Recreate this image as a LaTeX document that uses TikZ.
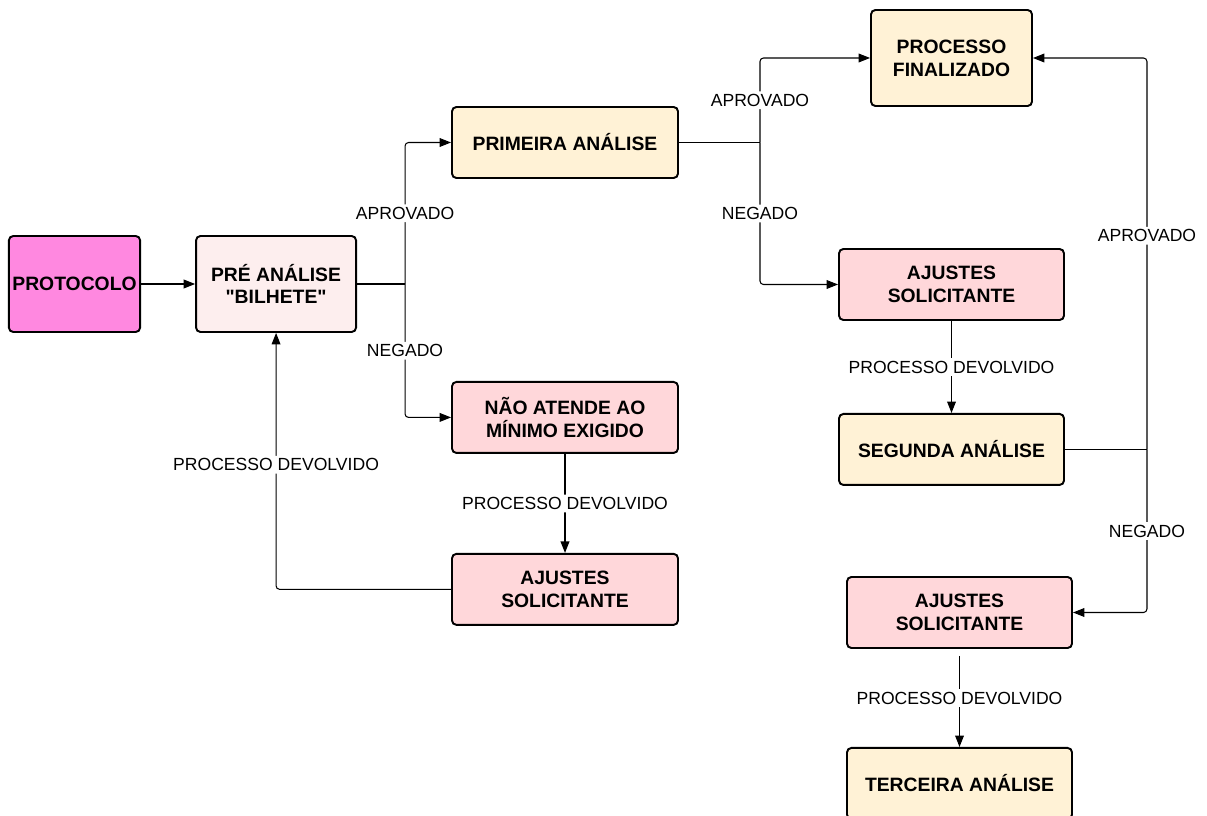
\documentclass[tikz,border=0pt]{standalone}
\usepackage{fontspec}
\setmainfont{Liberation Sans}[Ligatures=TeXOff]
\usetikzlibrary{positioning,calc}
\usetikzlibrary{arrows.meta}

\definecolor{protocolofill}{RGB}{255,136,224}
\definecolor{prefill}{RGB}{253,238,238}
\definecolor{analisefill}{RGB}{255,242,214}
\definecolor{ajustefill}{RGB}{255,215,218}

\begin{document}
\begin{tikzpicture}[
         box/.style = {draw=black, line width=1.1pt, rounded corners=2.5pt,
         align=center, inner sep=2pt, font=\fontsize{11}{13}\selectfont\bfseries},
         startbox/.style = {box, fill=protocolofill, minimum width=2.58cm, minimum height=1.92cm},
         prebox/.style = {box, fill=prefill, minimum width=3.2cm, minimum height=1.92cm},
         analise/.style = {box, fill=analisefill, minimum width=4.52cm, minimum height=1.42cm},
         ajuste/.style = {box, fill=ajustefill, minimum width=4.52cm, minimum height=1.42cm},
         link/.style = {line width=0.6pt, rounded corners=2pt, -{Triangle[length=6.5pt,width=5pt]}},
         plain/.style = {line width=0.6pt, rounded corners=2pt},
         lbl/.style = {fill=white, inner sep=1.5pt, font=\fontsize{10}{12}\selectfont}
]
      \useasboundingbox (0,0) rectangle (24.14,-16.32);

      % left part
      \node[startbox] (protocolo) at (1.49,-5.68) {PROTOCOLO};
      \node[prebox, right=1.08cm of protocolo] (pre) {PRÉ ANÁLISE\\"BILHETE"};
      \node[analise] (primeira) at (11.30,-2.85) {PRIMEIRA ANÁLISE};
      \node[ajuste, below=4.04cm of primeira] (naoatende) {NÃO ATENDE AO\\MÍNIMO EXIGIDO};
      \node[ajuste, below=1.98cm of naoatende] (ajustesB) {AJUSTES\\SOLICITANTE};

      % right part
      \node[analise, minimum width=3.22cm, minimum height=1.92cm] (finalizado)
         at (19.03,-1.16) {PROCESSO\\FINALIZADO};
      \node[ajuste, minimum width=4.5cm] (ajustesA) at (19.03,-5.69) {AJUSTES\\SOLICITANTE};
      \node[analise, minimum width=4.5cm, below=1.84cm of ajustesA] (segunda) {SEGUNDA ANÁLISE};
      \node[ajuste, minimum width=4.5cm] (ajustesC) at (19.19,-12.25) {AJUSTES\\SOLICITANTE};
      \node[analise, minimum width=4.5cm, below=1.96cm of ajustesC] (terceira) {TERCEIRA ANÁLISE};

      % junctions
      \coordinate (j1) at ($(pre.east)+(0.96,0)$);
      \coordinate (j2) at ($(primeira.east)+(1.62,0)$);
      \coordinate (j3) at ($(segunda.east)+(1.64,0)$);

      \draw[link] (protocolo) -- (pre);

      % pre analise
      \draw[plain] (pre.east) -- (j1);
      \draw[link] (j1) |- node[lbl, pos=0.25] {APROVADO} (primeira.west);
      \draw[link] (j1) |- node[lbl, pos=0.25] {NEGADO} (naoatende.west);
      \draw[link] (naoatende) -- node[lbl] {PROCESSO DEVOLVIDO} (ajustesB);
      \draw[link] (ajustesB.west) -| node[lbl, pos=0.743] {PROCESSO DEVOLVIDO} (pre.south);

      % primeira analise
      \draw[plain] (primeira.east) -- (j2);
      \draw[link] (j2) |- node[lbl, pos=0.25] {APROVADO} (finalizado.west);
      \draw[link] (j2) |- node[lbl, pos=0.25] {NEGADO} (ajustesA.west);
      \draw[link] (ajustesA) -- node[lbl] {PROCESSO DEVOLVIDO} (segunda);

      % segunda analise
      \draw[plain] (segunda.east) -- (j3);
      \draw[link] (j3) |- node[lbl, pos=0.273] {APROVADO} (finalizado.east);
      \draw[link] (j3) |- node[lbl, pos=0.25] {NEGADO} (ajustesC.east);
      \draw[link, shorten <=0.14cm] (ajustesC) -- node[lbl] {PROCESSO DEVOLVIDO} (terceira);

   \end{tikzpicture}
\end{document}
